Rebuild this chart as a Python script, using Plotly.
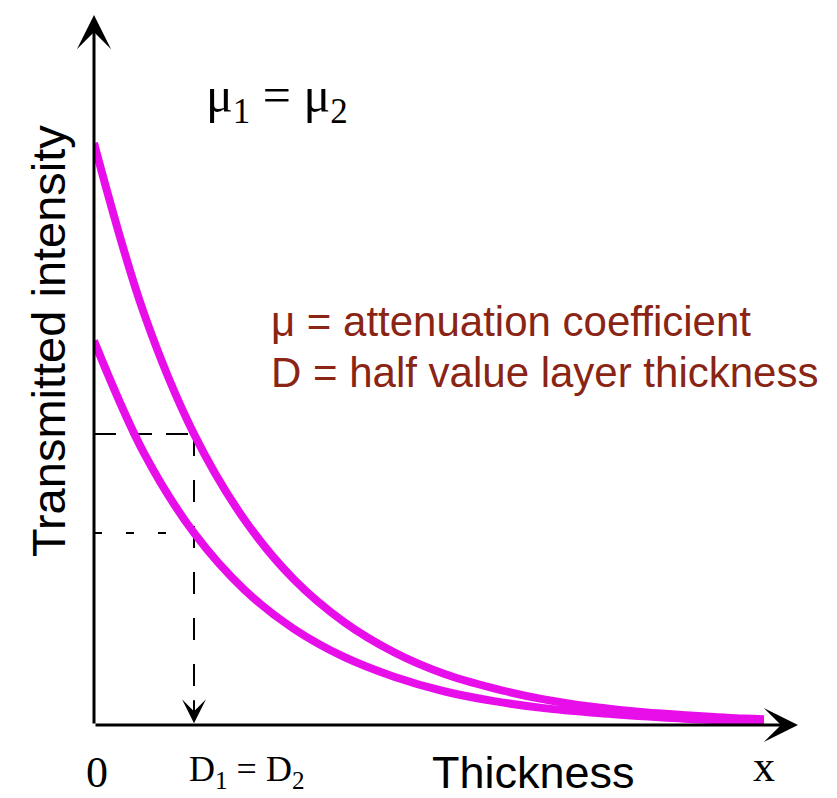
import plotly.graph_objects as go

# ---- data (x in units of the half value layer D) ----
thickness = [0.0, 0.5, 1.0, 1.5, 2.0, 2.5, 3.0, 3.5, 4.0, 4.5, 5.0, 5.5, 6.0, 6.5, 6.7]
upper_intensity = [100.0, 70.7, 50.0, 35.4, 25.0, 17.7, 12.5, 8.8, 6.3, 4.4, 3.1, 2.2, 1.6, 1.1, 1.0]
lower_intensity = [66.0, 46.7, 33.0, 23.3, 16.5, 11.7, 8.3, 5.8, 4.1, 2.9, 2.1, 1.5, 1.0, 0.7, 0.65]
half_value_thickness = 1.0  # D1 = D2
x_axis_max = 7.04
y_axis_max = 122.0

MAGENTA = "#E80EEA"
RED = "#8A2414"
SERIF = "Liberation Serif"
SANS = "Liberation Sans"

W_FIG, H_FIG = 837, 798
L, R, T, B = 86, 45, 2, 81
PW, PH = W_FIG - L - R, H_FIG - T - B
BODY = 8  # page margin around the figure


def paper(px, py):
    """page pixel position -> paper coordinates"""
    return (px - BODY - L) / PW, 1 - (py - BODY - T) / PH


d_idx = thickness.index(half_value_thickness)
upper_half = upper_intensity[d_idx]
lower_half = lower_intensity[d_idx]

fig = go.Figure()

# dashed guide lines
fig.add_shape(type="line", x0=0, x1=half_value_thickness, y0=upper_half, y1=upper_half,
              line=dict(color="black", width=2, dash="22px,14px"), layer="below")
fig.add_shape(type="line", x0=0, x1=half_value_thickness, y0=lower_half, y1=lower_half,
              line=dict(color="black", width=2, dash="8px,24px"), layer="below")
fig.add_shape(type="line", x0=half_value_thickness, x1=half_value_thickness, y0=upper_half, y1=3.5,
              line=dict(color="black", width=2, dash="22px,24px"), layer="below")

for vals in (upper_intensity, lower_intensity):
    fig.add_trace(go.Scatter(x=thickness, y=vals, mode="lines",
                             line=dict(color=MAGENTA, width=8, shape="spline"),
                             hoverinfo="skip", showlegend=False))

ann = []
# axes with arrows
ann.append(dict(x=0, y=y_axis_max, ax=0, ay=0, xref="x", yref="y", axref="x", ayref="y",
                text="", showarrow=True, arrowhead=3, arrowwidth=3, arrowsize=1.9,
                arrowcolor="black"))
ann.append(dict(x=x_axis_max, y=0, ax=0, ay=0, xref="x", yref="y", axref="x", ayref="y",
                text="", showarrow=True, arrowhead=3, arrowwidth=3, arrowsize=1.9,
                arrowcolor="black"))
# arrow head of the vertical dashed line
ann.append(dict(x=half_value_thickness, y=0.3, ax=half_value_thickness, ay=4.5,
                xref="x", yref="y", axref="x", ayref="y",
                text="", showarrow=True, arrowhead=3, arrowwidth=2, arrowsize=2.0,
                arrowcolor="black"))


def label(px, py, text, family, size, color="black", xanchor="center", **kw):
    x, y = paper(px, py)
    d = dict(x=x, y=y, xref="paper", yref="paper", showarrow=False, text=text,
             xanchor=xanchor, yanchor="middle",
             font=dict(family=family, size=size, color=color))
    d.update(kw)
    ann.append(d)


label(277, 99, "μ<sub>1</sub> = μ<sub>2</sub>", SERIF, 50)
label(48, 341, "Transmitted intensity", SANS, 47, textangle=-90)
label(533, 772, "Thickness", SANS, 45)
label(97, 772, "0", SERIF, 44)
label(247, 771, "D<sub>1</sub> = D<sub>2</sub>", SERIF, 36)
label(764, 766, "x", SERIF, 44)
label(269, 322, "μ = attenuation coefficient", SANS, 42, color=RED, xanchor="left")
label(269, 372, "D = half value layer thickness", SANS, 42, color=RED, xanchor="left")

fig.update_layout(
    width=W_FIG, height=H_FIG,
    margin=dict(l=L, r=R, t=T, b=B),
    paper_bgcolor="white", plot_bgcolor="white",
    xaxis=dict(range=[0, 7.06], visible=False, fixedrange=True),
    yaxis=dict(range=[0, 122.85], visible=False, fixedrange=True),
    annotations=ann,
    showlegend=False,
)

fig.write_html("out.html")
